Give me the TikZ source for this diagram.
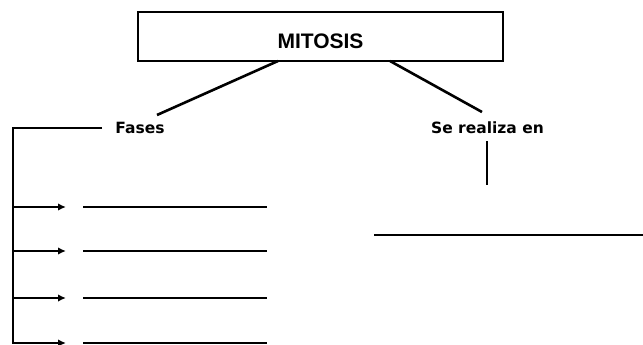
\documentclass[tikz,border=0pt]{standalone}
\usepackage{fontspec}
\setmainfont{DejaVu Sans}
\newfontfamily\titlefont{Liberation Sans}
\usetikzlibrary{arrows.meta}
\begin{document}
\begin{tikzpicture}[x=1pt,y=-1pt,
  line/.style={line width=2.6pt},
  branch/.style={line width=2.6pt,-{Latex[length=8pt,width=7.5pt]}},
  label/.style={font=\fontsize{15.5}{15.5}\selectfont\bfseries,anchor=base,inner sep=0pt},
  titlebox/.style={draw,line width=2.8pt,minimum width=365pt,minimum height=49pt,inner sep=0pt}]
  \useasboundingbox (0,0) rectangle (643,345);

  % title box
  \node[titlebox] (box) at (320.5,36.5) {};
  \node[font=\titlefont\fontsize{21}{21}\selectfont\bfseries,anchor=base,inner sep=0pt] (title) at (320.5,48.5) {MITOSIS};

  % branch labels
  \node[label] (fases) at (140,133) {Fases};
  \node[label] (where) at (487.5,133) {Se realiza en};

  % connectors from the title box
  \coordinate (bl) at (278,61);
  \coordinate (br) at (390,61);
  \coordinate (fl) at (157,115);
  \coordinate (wl) at (482,112);
  \draw[line] (bl) -- (fl);
  \draw[line] (br) -- (wl);

  % phase bracket
  \coordinate (fs) at (102,128);
  \coordinate (corner) at (13,128);
  \coordinate (bottom) at (13,344);
  \draw[line] (fs) -- (corner) -- (bottom);

  % phase arrows and blank lines
  \foreach \i/\y in {1/207,2/251,3/298,4/343}{
    \coordinate (a\i) at (13,\y);
    \coordinate (b\i) at (66,\y);
    \coordinate (s\i) at (83,\y);
    \coordinate (e\i) at (267,\y);
    \draw[branch] (a\i) -- (b\i);
    \draw[line] (s\i) -- (e\i);
  }

  % location branch
  \coordinate (wt) at (487,141);
  \coordinate (wb) at (487,185);
  \draw[line] (wt) -- (wb);
  \coordinate (ls) at (374,235);
  \coordinate (le) at (643,235);
  \draw[line] (ls) -- (le);
\end{tikzpicture}
\end{document}
